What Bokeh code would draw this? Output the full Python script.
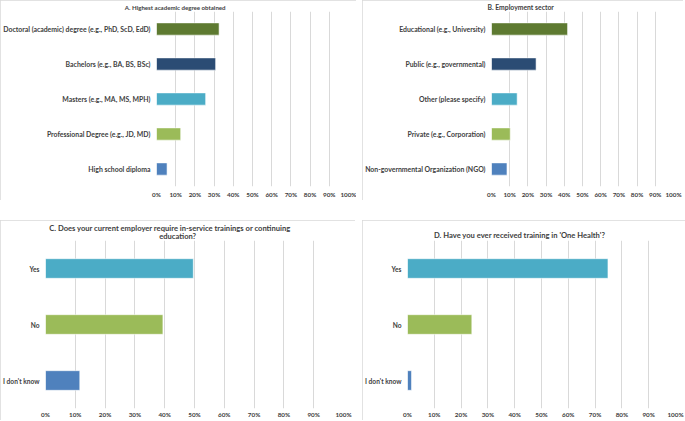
from bokeh.plotting import figure
from bokeh.models import (FactorRange, Range1d, Title,
                          FixedTicker, PrintfTickFormatter, Spacer)
from bokeh.layouts import column, row
from bokeh.embed import file_html
from bokeh.resources import INLINE

# ---------------- data ----------------
a_categories = ["Doctoral (academic) degree (e.g., PhD, ScD, EdD)",
                "Bachelors (e.g., BA, BS, BSc)",
                "Masters (e.g., MA, MS, MPH)",
                "Professional Degree (e.g., JD, MD)",
                "High school diploma"]
a_values = [32.6, 30.8, 25.6, 12.6, 5.5]

b_categories = ["Educational (e.g., University)",
                "Public (e.g., governmental)",
                "Other (please specify)",
                "Private (e.g., Corporation)",
                "Non-governmental Organization (NGO)"]
b_values = [41.8, 24.5, 14.1, 10.3, 8.5]

c_categories = ["Yes", "No", "I don't know"]
c_values = [49.6, 39.4, 11.5]

d_categories = ["Yes", "No", "I don't know"]
d_values = [74.8, 24.0, 1.5]

x_ticks = [0, 10, 20, 30, 40, 50, 60, 70, 80, 90, 100]

titles_a = ["A. Highest academic degree obtained"]
titles_b = ["B. Employment sector"]
titles_c = ["C.  Does your current employer require in-service trainings or continuing",
            "education?"]
titles_d = ["D. Have you ever received training in 'One Health'?"]

# ---------------- style ----------------
FONT = "Lato"
TXT = "#404040"
GRID = "#D9D9D9"
colors5 = ["#5E7A31", "#2B4C74", "#4BACC6", "#9BBB59", "#4F81BD"]
colors3 = ["#4BACC6", "#9BBB59", "#4F81BD"]

# approximate advance widths (em) of bold text, used only to centre titles
_W = {' ': .19, '.': .22, ',': .22, '?': .42, "'": .21, '-': .33,
      'a': .50, 'b': .56, 'c': .46, 'd': .56, 'e': .52, 'f': .33, 'g': .51,
      'h': .56, 'i': .25, 'j': .25, 'k': .52, 'l': .25, 'm': .83, 'n': .56,
      'o': .56, 'p': .56, 'q': .56, 'r': .37, 's': .43, 't': .36, 'u': .56,
      'v': .51, 'w': .77, 'x': .51, 'y': .51, 'z': .45,
      'A': .69, 'B': .64, 'C': .66, 'D': .73, 'E': .56, 'H': .74, 'O': .76}


def text_w(s, size):
    return sum(_W.get(ch, .6) for ch in s) * size * 1.1


def make_title(t, off, size, standoff):
    kw = dict(text=t, align="left", offset=off, text_font=FONT,
              text_font_style="bold", text_font_size=f"{size}px",
              text_color=TXT)
    try:
        return Title(standoff=standoff, **kw)
    except Exception:
        return Title(standoff=0, **kw)


def make_panel(cats, vals, colors, width, height, L, R, T, B,
               titles, title_size, cat_size, x_standoff, title_standoffs,
               bar_h=0.35):
    p = figure(width=width, height=height, output_backend="svg",
               toolbar_location=None,
               y_range=FactorRange(*list(reversed(cats))),
               x_range=Range1d(0, 100),
               min_border_left=L, min_border_right=R,
               min_border_top=T, min_border_bottom=B)
    p.outline_line_color = None
    p.background_fill_color = "white"
    p.border_fill_color = "white"
    p.styles = {"outline": "1px solid #D9D9D9", "outline-offset": "-1px"}
    p.hbar(y=cats, right=vals, left=0, height=bar_h,
           fill_color=colors, line_color="white", line_alpha=0.55,
           line_width=1)
    p.ygrid.grid_line_color = None
    p.xgrid.grid_line_color = GRID
    p.xgrid.grid_line_width = 1
    p.xaxis.ticker = FixedTicker(ticks=x_ticks)
    p.xaxis.formatter = PrintfTickFormatter(format="%d%%")
    for ax in (p.xaxis[0], p.yaxis[0]):
        ax.axis_line_color = None
        ax.major_tick_line_color = None
        ax.minor_tick_line_color = None
        ax.major_tick_out = 0
        ax.major_tick_in = 0
        ax.minor_tick_out = 0
        ax.minor_tick_in = 0
        ax.axis_label_standoff = 0
        ax.major_label_text_font = FONT
        ax.major_label_text_font_style = "bold"
        ax.major_label_text_color = TXT
    p.xaxis.major_label_text_font_size = "6.3px"
    p.xaxis.major_label_standoff = x_standoff
    p.yaxis.major_label_text_font_size = cat_size
    p.yaxis.major_label_standoff = 6

    # titles: first added sits nearest the frame, so add bottom line first
    for t, so in zip(reversed(titles), reversed(title_standoffs)):
        off = width / 2 - L - text_w(t, title_size) / 2
        p.add_layout(make_title(t, off, title_size, so), "above")
    return p


pA = make_panel(a_categories, a_values, colors5, 356, 200, 156, 8, 10, 13,
                titles_a, 6.1, "6.9px", 4, [1])
pB = make_panel(b_categories, b_values, colors5, 321, 200, 129, 10, 10, 13,
                titles_b, 6.8, "6.9px", 4, [1])
pC = make_panel(c_categories, c_values, colors3, 355, 200, 44, 12, 20, 10,
                titles_c, 7.6, "6.6px", 2, [-8, 0])
pD = make_panel(d_categories, d_values, colors3, 323, 200, 44, 10, 12, 10,
                titles_d, 7.6, "6.6px", 2, [1])

layout = column(row(pA, Spacer(width=6), pB),
                Spacer(height=20),
                row(pC, Spacer(width=7), pD))

open("out.html", "w").write(file_html(layout, INLINE))
